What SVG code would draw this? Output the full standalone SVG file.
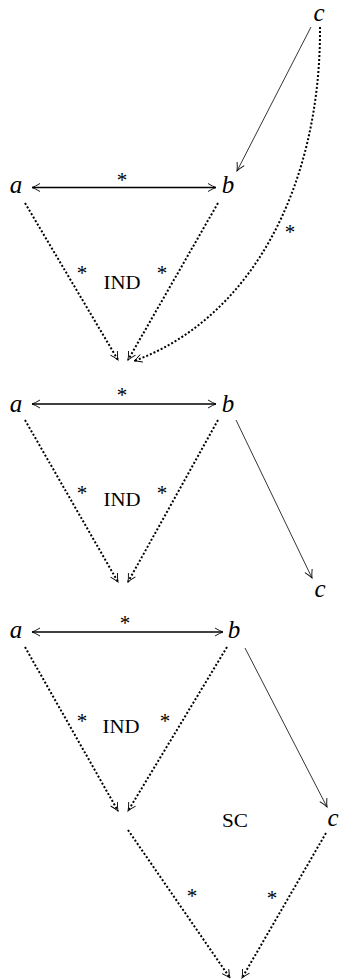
<svg xmlns="http://www.w3.org/2000/svg" width="339" height="980" viewBox="0 0 339 980">
<style>
text{font-family:"Liberation Serif","DejaVu Serif","Noto Serif",serif;fill:#000;text-anchor:middle}
.v{font-style:italic;font-size:25px}
.s{font-size:21px}
.l{font-size:18px}
.thick{stroke:#000;stroke-width:1.6;fill:none}
.thin{stroke:#000;stroke-width:0.8;fill:none}
.dot{stroke:#000;stroke-width:2;fill:none;stroke-dasharray:2 2}
</style>
<defs>
<marker id="ah" markerUnits="userSpaceOnUse" viewBox="-10 -6 12 12" refX="0" refY="0" markerWidth="12" markerHeight="12" orient="auto-start-reverse">
<path d="M-8,-4 Q-3,-1 0,0 Q-3,1 -8,4" fill="none" stroke="#000" stroke-width="0.9"/>
</marker>
</defs>
<rect width="339" height="980" fill="#fff"/>
<g id="connectors">
<line class="thick" x1="32" y1="187.5" x2="216" y2="187.5" marker-start="url(#ah)" marker-end="url(#ah)"/>
<line class="thin" x1="311" y1="27" x2="237" y2="171" marker-end="url(#ah)"/>
<path class="dot" d="M320,27 C321,185 252,318 134,361" marker-end="url(#ah)"/>
<line class="dot" x1="25" y1="203" x2="118" y2="360" marker-end="url(#ah)"/>
<line class="dot" x1="218" y1="203" x2="128" y2="360" marker-end="url(#ah)"/>
<line class="thick" x1="32" y1="404" x2="216" y2="404" marker-start="url(#ah)" marker-end="url(#ah)"/>
<line class="thin" x1="236" y1="420" x2="312" y2="578" marker-end="url(#ah)"/>
<line class="dot" x1="25" y1="420" x2="118" y2="582" marker-end="url(#ah)"/>
<line class="dot" x1="218" y1="420" x2="128" y2="582" marker-end="url(#ah)"/>
<line class="thick" x1="32" y1="632" x2="223" y2="632" marker-start="url(#ah)" marker-end="url(#ah)"/>
<line class="thin" x1="245" y1="648" x2="327" y2="807" marker-end="url(#ah)"/>
<line class="dot" x1="25" y1="647" x2="118" y2="811" marker-end="url(#ah)"/>
<line class="dot" x1="227" y1="647" x2="128" y2="811" marker-end="url(#ah)"/>
<line class="dot" x1="128" y1="830" x2="230" y2="978" marker-end="url(#ah)"/>
<line class="dot" x1="326" y1="833" x2="242" y2="978" marker-end="url(#ah)"/>
</g>
<g id="labels">
<text class="s" x="122" y="187">*</text>
<text class="s" x="290" y="239">*</text>
<text class="s" x="82" y="280">*</text>
<text class="s" x="162" y="280">*</text>
<text class="l" x="122" y="289" textLength="37" lengthAdjust="spacingAndGlyphs">IND</text>
<text class="s" x="122" y="402">*</text>
<text class="s" x="82" y="500">*</text>
<text class="s" x="162" y="500">*</text>
<text class="l" x="122" y="506" textLength="37" lengthAdjust="spacingAndGlyphs">IND</text>
<text class="s" x="125" y="630">*</text>
<text class="s" x="82" y="728">*</text>
<text class="s" x="165" y="728">*</text>
<text class="l" x="121" y="733" textLength="37" lengthAdjust="spacingAndGlyphs">IND</text>
<text class="l" x="235" y="827" textLength="26" lengthAdjust="spacingAndGlyphs">SC</text>
<text class="s" x="192" y="903">*</text>
<text class="s" x="272" y="905">*</text>
</g>
<g id="n1-a"><text class="v" x="16" y="193">a</text></g>
<g id="n1-b"><text class="v" x="228" y="193">b</text></g>
<g id="n1-c"><text class="v" x="319" y="21">c</text></g>
<g id="n2-a"><text class="v" x="16" y="412">a</text></g>
<g id="n2-b"><text class="v" x="228" y="412">b</text></g>
<g id="n2-c"><text class="v" x="320" y="597">c</text></g>
<g id="n3-a"><text class="v" x="16" y="638">a</text></g>
<g id="n3-b"><text class="v" x="234" y="638">b</text></g>
<g id="n3-c"><text class="v" x="333" y="826">c</text></g>
</svg>
